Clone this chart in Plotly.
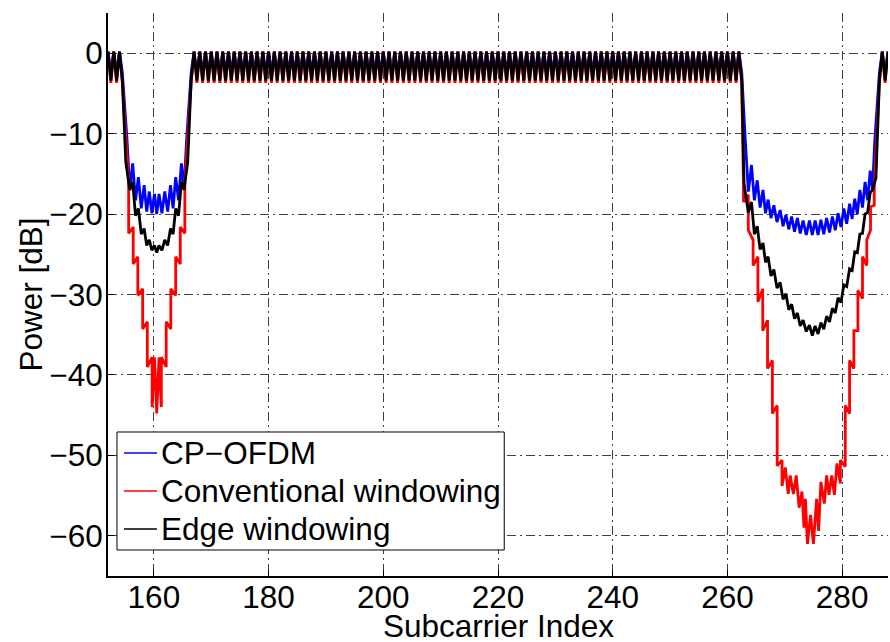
import numpy as np
import plotly.graph_objects as go

FONT = "Liberation Sans, Arial, Helvetica, sans-serif"
FS = 31.5

series_names = ["CP−OFDM", "Conventional windowing", "Edge windowing"]
series_colors = ["#0000ff", "#ff0000", "#000000"]

# In-band ripple: power at the ripple peaks / troughs [dB]
passband_peak_db = [0.2, 0.2, 0.2]
passband_trough_db = [-2.4, -3.7, -3.4]

# Occupied subcarrier ranges (peaks on integer indices, troughs in between)
passband_segments = [(152.0, 154.5), (166.5, 262.5), (286.5, 288.0)]

# ---- lower guard notch (subcarriers ~155..166) ----
cp_left_x = [155.3, 155.8, 156.3, 156.8, 157.3, 157.8, 158.3, 158.75, 159.2, 159.65, 160.1, 160.5,
             160.9, 161.4, 161.9, 162.4, 162.9, 163.35, 163.8, 164.3, 164.8, 165.25, 165.7]
cp_left_db = [-10.6, -17.0, -13.7, -18.3, -15.4, -19.3, -16.4, -19.7, -17.2, -19.9, -17.5, -20.0,
              -17.5, -19.9, -17.2, -19.7, -16.4, -19.3, -15.4, -18.3, -13.7, -17.0, -10.8]

edge_left_x = [155.1, 155.8, 156.3, 156.8, 157.3, 157.8, 158.3, 158.75, 159.2, 159.65, 160.1, 160.5,
               160.9, 161.4, 161.9, 162.4, 162.9, 163.35, 163.8, 164.3, 164.8, 165.25, 165.9]
edge_left_db = [-13.5, -17.0, -16.0, -20.2, -19.3, -22.5, -21.8, -23.9, -23.2, -24.5, -23.9, -24.8,
                -23.9, -24.5, -23.2, -23.9, -21.8, -22.5, -19.3, -20.2, -16.0, -17.0, -13.5]

conv_left_x = [155.6, 155.6, 156.4, 156.4, 157.2, 157.2, 158.05, 158.05, 158.85, 158.85, 159.7, 159.7,
               160.1, 160.5, 160.9, 161.3, 161.3, 162.15, 162.15, 162.95, 162.95, 163.8, 163.8,
               164.6, 164.6, 165.4, 165.4]
conv_left_db = [-16.0, -22.4, -21.6, -26.2, -25.3, -30.1, -29.3, -34.3, -33.4, -39.0, -37.8, -44.0,
                -37.8, -44.8, -37.8, -44.0, -37.8, -39.0, -33.4, -34.3, -29.3, -30.1, -25.3,
                -26.2, -21.6, -22.4, -16.0]

# ---- upper guard notch (subcarriers ~263..286) ----
cp_right_x = [263.1, 263.65, 264.2, 264.7, 265.2, 265.7, 266.2, 266.65, 267.1, 267.6, 268.1, 268.65,
              269.2, 269.7, 270.2, 270.7, 271.2, 271.7, 272.2, 272.7, 273.2, 273.75, 274.3, 274.8,
              275.3, 275.8, 276.3, 276.8, 277.3, 277.8, 278.3, 278.8, 279.3, 279.8, 280.3, 280.8,
              281.3, 281.75, 282.2, 282.65, 283.1, 283.55, 284.0, 284.45, 284.9, 285.3, 285.7]
cp_right_db = [-10.6, -17.2, -13.9, -18.3, -15.8, -19.2, -17.0, -19.9, -18.2, -20.5, -18.9, -21.0,
               -19.5, -21.5, -20.1, -21.9, -20.3, -22.2, -20.5, -22.4, -20.8, -22.6, -20.8, -22.6,
               -20.8, -22.6, -20.7, -22.5, -20.5, -22.3, -20.3, -22.0, -19.9, -21.6, -19.3, -21.2,
               -18.7, -20.6, -18.1, -20.0, -17.0, -19.2, -16.0, -18.3, -14.6, -17.0, -10.8]

edge_right_x = [262.9] + cp_right_x[1:-1] + [285.9]
edge_right_db = [-16.2, -19.8, -18.5, -22.5, -21.5, -24.4, -23.6, -26.0, -25.3, -27.7, -26.9, -29.2,
                 -28.5, -30.6, -29.9, -31.9, -31.2, -33.0, -32.3, -33.9, -33.2, -34.6, -33.8, -35.1,
                 -33.9, -34.9, -33.5, -34.3, -32.7, -33.4, -31.7, -32.3, -30.4, -31.0, -28.8, -29.0,
                 -26.8, -27.0, -24.7, -24.8, -22.5, -22.4, -20.0, -19.8, -17.3, -17.0, -15.5]

conv_right_x = [262.8, 262.8, 263.64, 263.64, 264.48, 264.48, 265.32, 265.32, 266.16, 266.16,
                267.0, 267.0, 267.84, 267.84, 268.68, 268.68, 269.52, 269.52,
                270.1, 270.6, 270.95, 271.5, 272.0, 272.5, 273.0, 273.35, 273.6, 273.95, 274.5,
                275.0, 275.55, 275.9, 276.3, 276.9, 277.3, 277.7, 278.2, 278.65, 279.1,
                279.7, 279.7, 280.55, 280.55, 281.3, 281.3, 282.05, 282.05, 282.75, 282.75,
                283.55, 283.55, 284.3, 284.3, 284.95, 284.95, 285.6, 285.6]
conv_right_db = [-16.6, -18.5, -17.6, -22.0, -23.2, -26.4, -25.3, -30.9, -29.3, -34.5,
                 -33.2, -39.2, -38.2, -44.8, -43.8, -51.3, -50.6, -53.8,
                 -51.5, -54.8, -52.5, -54.8, -52.5, -56.5, -54.5, -59.0, -55.4, -61.0, -57.4,
                 -61.0, -55.4, -59.4, -53.3, -56.0, -52.5, -54.9, -52.5, -54.9, -51.0,
                 -53.5, -50.6, -51.4, -43.8, -44.8, -38.2, -39.2, -34.5, -34.5, -29.5,
                 -30.5, -25.3, -26.4, -23.2, -22.0, -19.1, -18.9, -16.6]

notch_data = [
    (cp_left_x, cp_left_db, cp_right_x, cp_right_db),
    (conv_left_x, conv_left_db, conv_right_x, conv_right_db),
    (edge_left_x, edge_left_db, edge_right_x, edge_right_db),
]


def passband(x0, x1, peak, trough):
    xs = np.arange(x0, x1 + 0.25, 0.5)
    ys = np.where(np.isclose(xs % 1.0, 0.0), peak, trough)
    return list(xs), list(ys)


fig = go.Figure()
for i, name in enumerate(series_names):
    lx, ly, rx, ry = notch_data[i]
    segs = [passband(a, b, passband_peak_db[i], passband_trough_db[i]) for a, b in passband_segments]
    x = segs[0][0] + list(lx) + segs[1][0] + list(rx) + segs[2][0]
    y = segs[0][1] + list(ly) + segs[1][1] + list(ry) + segs[2][1]
    fig.add_trace(go.Scatter(x=x, y=y, mode="lines", name=name, showlegend=False,
                             line=dict(color=series_colors[i], width=2.8)))

axis_common = dict(
    showline=True, linecolor="black", linewidth=2, mirror=False,
    ticks="inside", ticklen=6, tickcolor="black", tickwidth=1,
    showgrid=True, gridcolor="#404040", gridwidth=1, griddash="9px,4px,2px,4px",
    zeroline=False, tickfont=dict(family=FONT, size=FS, color="black"),
)

fig.update_xaxes(range=[152, 288], tick0=160, dtick=20, ticklabelstandoff=-8, **axis_common)
fig.update_yaxes(range=[-65, 5], tick0=0, dtick=10, ticklabelstandoff=-3, **axis_common)

# Legend box (paper coordinates of the plot area)
leg_x0, leg_x1 = 0.0115, 0.508
leg_y0, leg_y1 = 0.0462, 0.2558
row_y = [0.2185, 0.151, 0.0835]
line_x0, line_x1 = 0.0205, 0.0628
text_x = 0.066

shapes = [dict(type="rect", xref="paper", yref="paper", x0=leg_x0, x1=leg_x1, y0=leg_y0, y1=leg_y1,
               line=dict(color="black", width=1), fillcolor="white", layer="above")]
annotations = []
for name, color, ry in zip(series_names, series_colors, row_y):
    shapes.append(dict(type="line", xref="paper", yref="paper", x0=line_x0, x1=line_x1, y0=ry, y1=ry,
                       line=dict(color=color, width=1.5), layer="above"))
    annotations.append(dict(text=name, x=text_x, y=ry, xref="paper", yref="paper",
                            xanchor="left", yanchor="middle", showarrow=False,
                            font=dict(family=FONT, size=FS, color="black")))

annotations += [
    dict(text="Subcarrier Index", x=0.5, y=-0.088, xref="paper", yref="paper",
         xanchor="center", yanchor="middle", showarrow=False,
         font=dict(family=FONT, size=FS, color="black")),
    dict(text="Power [dB]", x=-0.1, y=0.5, xref="paper", yref="paper",
         xanchor="center", yanchor="middle", textangle=-90, showarrow=False,
         font=dict(family=FONT, size=FS, color="black")),
]

fig.update_layout(
    width=890, height=642,
    margin=dict(l=108, r=2, t=13, b=66, autoexpand=False),
    paper_bgcolor="white", plot_bgcolor="white",
    font=dict(family=FONT, size=FS, color="black"),
    showlegend=False,
    shapes=shapes,
    annotations=annotations,
)

fig.write_html("out.html")
